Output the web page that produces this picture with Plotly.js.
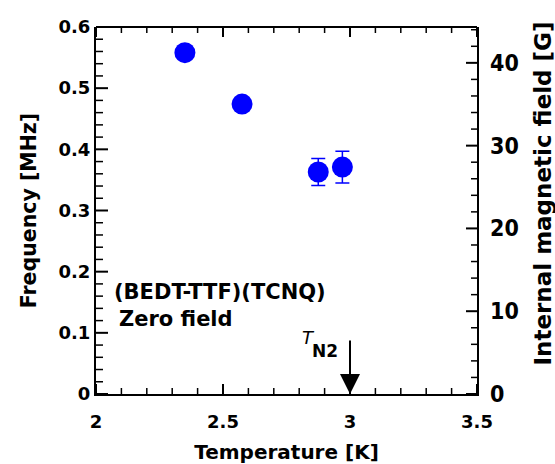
<!DOCTYPE html>
<html>
<head>
<meta charset="utf-8">
<script src="https://cdn.plot.ly/plotly-3.0.1.min.js"></script>
<style>html,body{margin:0;padding:0;background:#fff;}#chart{width:555px;height:464px;}</style>
</head>
<body>
<div id="chart"></div>
<script>
// Data
const temperature = [2.35, 2.575, 2.875, 2.97];      // K
const frequency   = [0.558, 0.474, 0.363, 0.371];    // MHz
const freqError   = [0.01, 0.01, 0.022, 0.026];      // MHz
const xMajorTicks = [2, 2.5, 3, 3.5];
const yMajorTicks = [0, 0.1, 0.2, 0.3, 0.4, 0.5, 0.6];
const y2MajorTicks = [0, 10, 20, 30, 40];
const y2TickText = ['0', '10', '20', '30', '40'];
const freqRange = [0, 0.6];
const fieldRange = [0, 44.33];   // G, right axis
const tempRange = [2, 3.5];
const transitionTemp = 3.0;      // T_N2
const arrowTop = 0.09;
const sampleLabel = '(BEDT-TTF)(TCNQ)';
const fieldLabel = 'Zero field';

const F = 'DejaVu Sans, Liberation Sans, Arial, sans-serif';
const FN = 'DejaVu Sans Condensed, Liberation Sans Narrow, sans-serif';

// minor tick positions between the major ones
function minorSteps(lo, hi, step, majors) {
  const out = [];
  const n = Math.round((hi - lo) / step);
  for (let i = 0; i <= n; i++) {
    const v = +(lo + i * step).toFixed(6);
    if (!majors.some(m => Math.abs(m - v) < 1e-9)) out.push(v);
  }
  return out;
}
const xMinorTicks = minorSteps(2, 3.5, 0.1, xMajorTicks);
const yMinorTicks = minorSteps(0, 0.6, 0.02, yMajorTicks);
const y2MinorTicks = minorSteps(0, 44, 2, y2MajorTicks);

const shapes = [];
function xTick(v, len, w) {
  shapes.push({type: 'line', xref: 'x', yref: 'paper', ysizemode: 'pixel', yanchor: 0,
    x0: v, x1: v, y0: 0, y1: len, line: {color: '#000', width: w}});
  shapes.push({type: 'line', xref: 'x', yref: 'paper', ysizemode: 'pixel', yanchor: 1,
    x0: v, x1: v, y0: 0, y1: -len, line: {color: '#000', width: w}});
}
function yTick(v, len, w, axisRef, side) {
  shapes.push({type: 'line', xref: 'paper', yref: axisRef, xsizemode: 'pixel', xanchor: side,
    x0: 0, x1: side === 0 ? len : -len, y0: v, y1: v, line: {color: '#000', width: w}});
}
xMajorTicks.forEach(v => xTick(v, 10, 2));
xMinorTicks.forEach(v => xTick(v, 6, 1.5));
yMajorTicks.forEach(v => yTick(v, 12, 2, 'y', 0));
yMinorTicks.forEach(v => yTick(v, 7, 1.5, 'y', 0));
y2MajorTicks.forEach(v => yTick(v, 11, 2, 'y2', 1));
y2MinorTicks.forEach(v => yTick(v, 6, 1.5, 'y2', 1));
// top frame line
shapes.push({type: 'line', xref: 'paper', yref: 'paper', x0: 0, x1: 1, y0: 1, y1: 1,
  line: {color: '#000', width: 2}});

const trace = {
  x: temperature, y: frequency, type: 'scatter', mode: 'markers',
  marker: {size: 21, color: '#0000ff'},
  error_y: {type: 'data', array: freqError, visible: true, color: '#0000ff', thickness: 1.5, width: 7}
};
const fieldAxisTrace = {x: tempRange, y: fieldRange, yaxis: 'y2', type: 'scatter', mode: 'markers',
  marker: {opacity: 0, size: 1}};

const annotations = [
  {xref: 'paper', yref: 'paper', x: 1.172, y: 0.545, xanchor: 'center', yanchor: 'middle',
   text: '<b>Internal magnetic field [G]</b>', textangle: -90, showarrow: false,
   font: {family: F, size: 23, color: '#000'}},
  {xref: 'x', yref: 'y', x: 2.062, y: 0.166, xanchor: 'left', yanchor: 'middle',
   text: '<b>' + sampleLabel + '</b>', showarrow: false, font: {family: F, size: 21, color: '#000'}},
  {xref: 'x', yref: 'y', x: 2.082, y: 0.1225, xanchor: 'left', yanchor: 'middle',
   text: '<b>' + fieldLabel + '</b>', showarrow: false, font: {family: F, size: 21, color: '#000'}},
  {xref: 'x', yref: 'y', x: 2.836, y: 0.093, xanchor: 'center', yanchor: 'middle',
   text: '<i>T</i>', showarrow: false, font: {family: F, size: 18, color: '#000'}},
  {xref: 'x', yref: 'y', x: 2.90, y: 0.071, xanchor: 'center', yanchor: 'middle',
   text: '<b>N2</b>', showarrow: false, font: {family: F, size: 17, color: '#000'}},
  {xref: 'x', yref: 'y', x: transitionTemp, y: 0, axref: 'x', ayref: 'y', ax: transitionTemp, ay: arrowTop,
   text: '', showarrow: true, arrowhead: 2, arrowsize: 2, arrowwidth: 2, arrowcolor: '#000', standoff: 0}
];
// right-axis tick labels, placed on the field scale
y2MajorTicks.forEach((g, i) => annotations.push({xref: 'paper', yref: 'y2', x: 1.029, y: g,
  xanchor: 'left', yanchor: 'middle', text: '<b>' + y2TickText[i] + '</b>', showarrow: false,
  font: {family: FN, size: 23, color: '#000'}}));

const layout = {
  width: 555, height: 464, margin: {l: 96, r: 78, t: 27, b: 70},
  showlegend: false, plot_bgcolor: 'rgba(0,0,0,0)', paper_bgcolor: '#fff',
  xaxis: {range: tempRange, tickmode: 'array', tickvals: xMajorTicks,
    ticks: 'outside', ticklen: 10, tickcolor: 'rgba(0,0,0,0)',
    showline: true, linewidth: 2, linecolor: '#000', showgrid: false, zeroline: false,
    tickfont: {family: F, size: 18, color: '#000', weight: 'bold'},
    title: {text: '<b>Temperature [K]</b>', font: {family: F, size: 20, color: '#000'}, standoff: 16}},
  yaxis: {range: freqRange, tickmode: 'array', tickvals: yMajorTicks, ticks: '',
    showline: true, linewidth: 2, linecolor: '#000', showgrid: false, zeroline: false,
    tickfont: {family: F, size: 18, color: '#000', weight: 'bold'},
    title: {text: '<b>Frequency [MHz]</b>', font: {family: F, size: 20.5, color: '#000'}, standoff: 16}},
  yaxis2: {range: fieldRange, overlaying: 'y', side: 'right', ticks: '', showticklabels: false,
    showline: true, linewidth: 2, linecolor: '#000', showgrid: false, zeroline: false},
  shapes: shapes,
  annotations: annotations
};
Plotly.newPlot('chart', [trace, fieldAxisTrace], layout, {staticPlot: true});
</script>
</body>
</html>
